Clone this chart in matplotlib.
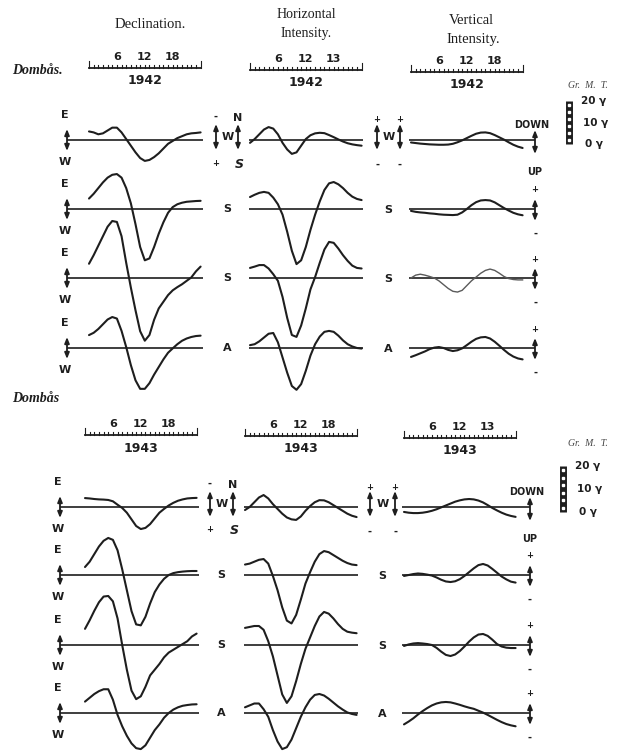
import matplotlib
matplotlib.use("Agg")
import matplotlib.pyplot as plt

# ---------------- data (hourly values, gamma) ----------------
HOURS = list(range(25))

DEC_1942 = [
    [4.5, 4, 3, 3.5, 5, 6.5, 6.5, 4, 0.5, -3, -6.5, -9.5, -11, -10.5, -9, -7, -4.5, -2, -0.5, 1, 2, 3, 3.5, 3.7, 4],
    [5.5, 8, 11, 14, 16.5, 18, 18.4, 16.5, 11, 3, -8, -20, -27, -26, -20, -13, -7, -2, 1, 2.5, 3.3, 3.8, 4, 4.2, 4.3],
    [7.5, 12, 17, 22, 27, 30, 29.5, 22, 8, -5, -17, -28, -33, -30, -22, -16, -12.5, -9, -6.5, -4.8, -3.3, -1.5, 0.3, 3.5, 6],
    [6.8, 8, 10, 12.5, 15, 16.3, 15.5, 9, 0.5, -9, -17, -21.5, -21.5, -18.5, -14, -10, -6, -2.5, -0.2, 2, 3.8, 5, 5.8, 6.3, 6.5],
]
HOR_1942 = [
    [-1.5, 0.5, 3, 5.5, 6.8, 6, 3, -1.5, -5, -7.3, -6.5, -3, 0.5, 2.5, 3.5, 3.8, 3.6, 2.6, 1.5, 0.3, -0.8, -1.7, -2.3, -2.7, -3],
    [6.3, 7.5, 8.5, 9, 8.5, 6, 2.5, -3, -12, -22, -29, -27, -20, -11, -3, 4, 10, 13.5, 14.2, 13, 11, 8.5, 6.5, 5.3, 4.7],
    [5.3, 6, 6.8, 6.8, 5, 2, -1.5, -10, -21, -30, -31, -25, -16, -6, 0.5, 8, 15, 19, 18.5, 15.5, 12, 9, 6.5, 5.3, 5],
    [1.5, 2, 3.5, 5.5, 7.5, 7.9, 3, -5, -13, -20, -22, -19, -12, -4, 2, 6, 8.5, 9, 8.5, 6.5, 4, 2, 0.8, 0, -0.3],
]
VER_1942 = [
    [-1.3, -1.6, -1.9, -2.1, -2.3, -2.4, -2.5, -2.5, -2.4, -2, -1.2, -0.2, 1, 2.2, 3.3, 3.9, 4, 3.6, 2.6, 1.4, 0.2, -1.2, -2.5, -3.5, -4.2],
    [-1, -1.5, -1.8, -2, -2.3, -2.5, -2.8, -3, -3.1, -3.2, -3, -1.8, 0, 2, 3.6, 4.5, 4.7, 4.5, 3.5, 2, 0.5, -0.8, -2, -2.8, -3.3],
    [0, 1.5, 2, 1.5, 0.8, 0, -1.5, -3.5, -5.5, -7, -7.4, -6.5, -4, -1.5, 0.5, 2.5, 4, 4.7, 4, 2.5, 0.8, -0.3, -0.8, -1, -1],
    [-4.7, -3.8, -2.8, -1.8, -0.6, 0.2, 0.5, 0, -1, -1.6, -1.2, -0.2, 1.5, 3.3, 4.8, 5.6, 5.8, 5, 3.3, 1.2, -1, -3, -4.5, -5.5, -6],
]
DEC_1943 = [
    [4.7, 4.5, 4.2, 4, 3.9, 3.7, 3, 1.2, -0.5, -3, -6.5, -10, -11.6, -11, -9, -6, -3, -1, 0.8, 2.2, 3.3, 4, 4.5, 4.7, 4.8],
    [4.2, 7, 11, 15, 18, 19.5, 18.5, 13, 3, -8, -19, -26, -26.5, -22, -15, -9, -5, -2, 0, 1, 1.5, 1.8, 2, 2.1, 2.1],
    [8.5, 13, 18, 22.5, 25.5, 25.8, 23, 14, 0, -13, -24, -28.5, -27, -22, -16, -13, -10, -6.5, -4, -2.5, -1, 0.5, 2, 4.5, 6],
    [6, 8, 10, 11.5, 12.5, 12.5, 7, -1, -7, -12, -16, -18.5, -19, -17, -13, -9, -6, -2.5, 0, 1.8, 3, 3.8, 4.2, 4.5, 4.6],
]
HOR_1943 = [
    [-1.6, 0, 2.5, 5, 6.3, 4.5, 1.5, -1, -3.5, -5.5, -6.5, -6.8, -5, -2, 0.5, 2.5, 3.6, 3.5, 2.5, 1, -0.5, -2, -3.5, -4.6, -5.3],
    [5.5, 6, 7, 8, 8.4, 6, -0.5, -8, -17, -24, -25.5, -21, -13, -4.5, 1.5, 7, 11, 12.6, 12, 10.5, 9, 7.5, 6.3, 5.5, 5.2],
    [9, 9.5, 10, 10, 8, 2, -6, -16, -26, -30.5, -27, -19, -10, -2, 4, 10, 15, 17.4, 16.5, 14, 11, 8.5, 7, 6.5, 6.2],
    [3, 4, 5, 5, 2, -2, -9, -15, -19, -18, -14, -8, -2, 3, 7, 9.5, 10, 9.2, 7.5, 5.5, 3.5, 1.8, 0.3, -0.5, -1],
]
VER_1943 = [
    [-2.6, -3, -3.2, -3.2, -3, -2.6, -2, -1.2, -0.2, 0.8, 1.8, 2.8, 3.5, 4, 4.2, 4, 3.4, 2.4, 1, -0.5, -1.8, -3, -4, -4.7, -5.2],
    [-0.5, 0, 0.5, 0.8, 0.6, 0.2, -0.3, -1.3, -2.5, -3.4, -3.7, -3.3, -2.2, -0.5, 1.5, 3.5, 5.2, 5.8, 5, 3.2, 1.2, -0.8, -2.3, -3.5, -4],
    [-0.5, 0.3, 0.8, 1, 0.8, 0.5, 0, -1.5, -3.5, -5.2, -5.8, -5, -3.2, -0.8, 1.8, 4, 5.5, 5.8, 4.8, 2.8, 0.5, -0.8, -1.4, -1.6, -1.6],
    [-6, -4.5, -2.8, -0.8, 1, 2.6, 4, 5, 5.6, 5.8, 5.6, 5, 4.3, 3.5, 2.8, 2.2, 1.2, 0.2, -1, -2.3, -3.6, -4.8, -5.8, -6.5, -7],
]

YEARS = ["1942", "1943"]
TICK_HOURS = [6, 12, 18]
TICK_TEXT = {
    "1942": [["6", "12", "18"], ["6", "12", "13"], ["6", "12", "18"]],
    "1943": [["6", "12", "18"], ["6", "12", "18"], ["6", "12", "13"]],
}
ROW_LABELS = ["W", "S", "S", "A"]
GAMMA_LABELS = ["20 γ", "10 γ", "0 γ"]
STATION = ["Dombås.", "Dombås"]

# ---------------- layout ----------------
W, H = 617, 751
PPX = 4.65   # pixels per hour
PPG = 1.9    # pixels per gamma
INK = "#1e1e1e"

LAYOUT = {
    "1942": dict(x0=[89, 250, 411], yb=[140, 209, 278, 348], bar_y=[68, 70, 72],
                 left_x=67, mid1=(216, 238), mid2=(377, 400), right_x=535,
                 station_y=71, grmt=(588, 86), gbar=(569, 101, 144)),
    "1943": dict(x0=[85, 245, 404], yb=[507, 575, 645, 713], bar_y=[435, 436, 438],
                 left_x=60, mid1=(210, 233), mid2=(370, 395), right_x=530,
                 station_y=398, grmt=(588, 443), gbar=(563, 466, 512)),
}

fig = plt.figure(figsize=(W / 100, H / 100), dpi=100)
fig.patch.set_facecolor("white")
bg = fig.add_axes([0, 0, 1, 1])
bg.set_xlim(0, W)
bg.set_ylim(H, 0)
bg.axis("off")

HAND = dict(family="DejaVu Sans", fontweight="bold", color=INK)
SERIF = dict(family="Liberation Serif", color=INK)


def panel_axes(x0, yb):
    hmin, hmax, gmin, gmax = -8, 32, -40, 40
    left = x0 + hmin * PPX
    right = x0 + hmax * PPX
    top = yb - gmax * PPG
    bottom = yb - gmin * PPG
    ax = fig.add_axes([left / W, 1 - bottom / H, (right - left) / W, (bottom - top) / H])
    ax.set_xlim(hmin, hmax)
    ax.set_ylim(gmin, gmax)
    ax.axis("off")
    ax.patch.set_alpha(0)
    return ax


def varrow(x, yc, half=11, lw=1.3):
    bg.annotate("", xy=(x, yc - half), xytext=(x, yc + half),
                arrowprops=dict(arrowstyle="<|-|>,head_length=0.35,head_width=0.14",
                                color=INK, lw=lw, shrinkA=0, shrinkB=0))


def time_bar(x0, y, labels, year):
    x1 = x0 + 24 * PPX
    bg.plot([x0, x1], [y, y], color=INK, lw=1.3)
    for h in range(25):
        x = x0 + h * PPX
        ln = 7 if h in (0, 24) else 2.6
        bg.plot([x, x], [y, y - ln], color=INK, lw=0.8)
    for h, t in zip(TICK_HOURS, labels):
        bg.text(x0 + h * PPX, y - 11, t, ha="center", va="center", fontsize=8, **HAND)
    bg.text((x0 + x1) / 2, y + 13, year, ha="center", va="center", fontsize=9, **HAND)


# headers
bg.text(150, 25, "Declination.", ha="center", va="center", fontsize=10.5, **SERIF)
bg.text(306, 15, "Horizontal", ha="center", va="center", fontsize=10, **SERIF)
bg.text(306, 33, "Intensity.", ha="center", va="center", fontsize=10, **SERIF)
bg.text(471, 20, "Vertical", ha="center", va="center", fontsize=10.5, **SERIF)
bg.text(473, 40, "Intensity.", ha="center", va="center", fontsize=10.5, **SERIF)

DATA = {"1942": [DEC_1942, HOR_1942, VER_1942], "1943": [DEC_1943, HOR_1943, VER_1943]}

for yi, year in enumerate(YEARS):
    L = LAYOUT[year]
    bg.text(12, L["station_y"], STATION[yi], ha="left", va="center", fontsize=10,
            fontstyle="italic", fontweight="bold", family="Liberation Serif", color=INK)
    for c in range(3):
        time_bar(L["x0"][c], L["bar_y"][c], TICK_TEXT[year][c], year)

    # curves
    for c in range(3):
        x0 = L["x0"][c]
        if c == 0:
            b0 = (L["left_x"] - x0) / PPX
            b1 = 24 + 2 / PPX
        elif c == 1:
            b0, b1 = -1 / PPX, 24 + 1 / PPX
        else:
            b0 = -2 / PPX
            b1 = (L["right_x"] - x0) / PPX
        for r in range(4):
            ax = panel_axes(x0, L["yb"][r])
            ax.plot([b0, b1], [0, 0], color=INK, lw=1.2, solid_capstyle="butt")
            vals = DATA[year][c][r]
            if year == "1942" and c == 2 and r == 2:
                ax.plot(HOURS, vals, color="#5a5a5a", lw=1.0, solid_joinstyle="round")
            else:
                ax.plot(HOURS, vals, color=INK, lw=1.5, solid_joinstyle="round",
                        solid_capstyle="round")

    # left E/W arrows
    for r in range(4):
        yb = L["yb"][r]
        varrow(L["left_x"], yb)
        bg.text(L["left_x"] - 2, yb - 25, "E", ha="center", va="center", fontsize=8, **HAND)
        bg.text(L["left_x"] - 2, yb + 22, "W", ha="center", va="center", fontsize=8, **HAND)

    # first-row brackets
    yb0 = L["yb"][0]
    a, b = L["mid1"]
    varrow(a, yb0 - 3, 13)
    varrow(b, yb0 - 3, 13)
    bg.text((a + b) / 2 + 0.5, yb0 - 3, ROW_LABELS[0], ha="center", va="center", fontsize=8, **HAND)
    bg.text(a, yb0 - 23, "-", ha="center", va="center", fontsize=7, **HAND)
    bg.text(a, yb0 + 23, "+", ha="center", va="center", fontsize=6, **HAND)
    bg.text(b, yb0 - 22, "N", ha="center", va="center", fontsize=8, **HAND)
    bg.text(b + 1, yb0 + 24, "S", ha="center", va="center", fontsize=9, fontstyle="italic",
            family="DejaVu Sans", fontweight="bold", color=INK)
    a, b = L["mid2"]
    varrow(a, yb0 - 3, 13)
    varrow(b, yb0 - 3, 13)
    bg.text((a + b) / 2 + 0.5, yb0 - 3, ROW_LABELS[0], ha="center", va="center", fontsize=8, **HAND)
    for x in (a, b):
        bg.text(x, yb0 - 20, "+", ha="center", va="center", fontsize=6, **HAND)
        bg.text(x, yb0 + 25, "-", ha="center", va="center", fontsize=7, **HAND)

    # DOWN / UP
    rx = L["right_x"]
    varrow(rx, yb0 + 2, 12)
    bg.text(rx - 3, yb0 - 15, "DOWN", ha="center", va="center", fontsize=7, **HAND)
    bg.text(rx, yb0 + 32, "UP", ha="center", va="center", fontsize=7, **HAND)

    # rows 2-4 labels and right +/- arrows
    for r in range(1, 4):
        yb = L["yb"][r]
        bg.text((L["mid1"][0] + L["mid1"][1]) / 2, yb, ROW_LABELS[r], ha="center", va="center",
                fontsize=8, **HAND)
        bg.text((L["mid2"][0] + L["mid2"][1]) / 2, yb + 1, ROW_LABELS[r], ha="center", va="center",
                fontsize=8, **HAND)
        varrow(rx, yb + 1, 11)
        bg.text(rx, yb - 19, "+", ha="center", va="center", fontsize=6, **HAND)
        bg.text(rx, yb + 25, "-", ha="center", va="center", fontsize=7, **HAND)

    # Gr. M. T. and gamma scale
    gx, gy = L["grmt"]
    bg.text(gx, gy, "Gr.  M.  T.", ha="center", va="center", fontsize=7, fontstyle="italic",
            family="Liberation Serif", color="#444444")
    bx, btop, bbot = L["gbar"]
    bg.plot([bx, bx], [btop, bbot], color=INK, lw=5, solid_capstyle="butt")
    n = 6
    for k in range(n):
        yy = btop + 4 + k * (bbot - btop - 8) / (n - 1)
        bg.plot([bx], [yy], marker="s", ms=1.6, color="white", mec="white")
    for k, t in enumerate(GAMMA_LABELS):
        yy = btop + k * (bbot - btop) / 2
        bg.text(bx + 12 + 2 * k, yy, t, ha="left", va="center", fontsize=7.5, **HAND)

fig.savefig("out.png", dpi=100, facecolor="white")
